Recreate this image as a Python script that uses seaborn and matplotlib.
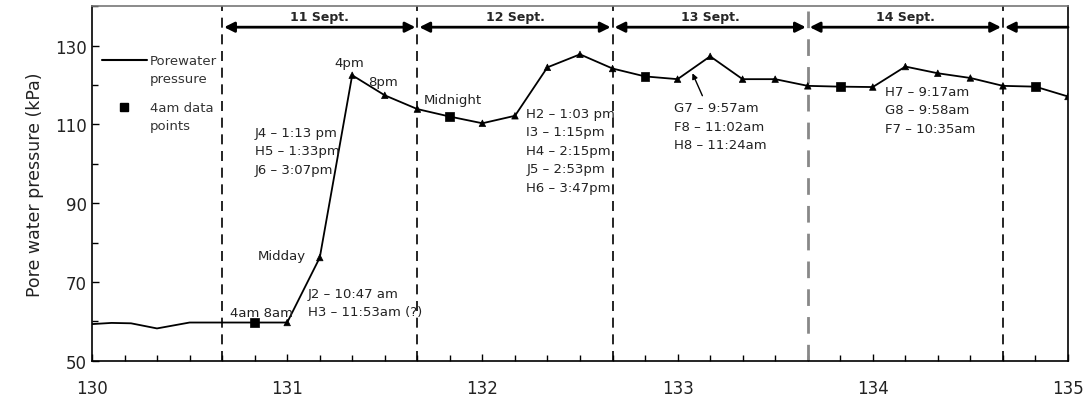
import matplotlib
matplotlib.use("Agg")
import matplotlib.pyplot as plt
import seaborn as sns
import pandas as pd

# ---- data ----
time_days = [130.0, 130.1, 130.2, 130.333, 130.5, 130.667,
             130.833, 131.0, 131.167, 131.333, 131.5, 131.667,
             131.833, 132.0, 132.167, 132.333, 132.5, 132.667,
             132.833, 133.0, 133.167, 133.333, 133.5, 133.667,
             133.833, 134.0, 134.167, 134.333, 134.5, 134.667,
             134.833, 135.0]
pressure = [59.3, 59.6, 59.5, 58.2, 59.7, 59.7,
            59.7, 59.7, 76.2, 122.5, 117.4, 113.9,
            112.0, 110.3, 112.2, 124.5, 127.8, 124.2,
            122.2, 121.5, 127.3, 121.5, 121.5, 119.8,
            119.6, 119.5, 124.7, 123.0, 121.8, 119.8,
            119.6, 117.1]
point_kind = ["none"] * 6 + ["4am", "other", "other", "other", "other", "other",
                             "4am", "other", "other", "other", "other", "other",
                             "4am", "other", "other", "other", "other", "other",
                             "4am", "other", "other", "other", "other", "other",
                             "4am", "other"]

day_bounds = [130.667, 131.667, 132.667, 133.667, 134.667]
day_labels = ["11 Sept.", "12 Sept.", "13 Sept.", "14 Sept."]

annotations = [
    ("4pm", 131.32, 125.8, "center"),
    ("8pm", 131.49, 121.0, "center"),
    ("Midnight", 131.70, 116.4, "left"),
    ("Midday", 130.97, 76.8, "center"),
    ("4am 8am", 130.87, 62.3, "center"),
    ("J2 \u2013 10:47 am\nH3 \u2013 11:53am (?)", 131.105, 64.8, "left"),
    ("J4 \u2013 1:13 pm\nH5 \u2013 1:33pm\nJ6 \u2013 3:07pm", 130.834, 103.3, "left"),
    ("H2 \u2013 1:03 pm\nI3 \u2013 1:15pm\nH4 \u2013 2:15pm\nJ5 \u2013 2:53pm\nH6 \u2013 3:47pm", 132.225, 103.5, "left"),
    ("G7 \u2013 9:57am\nF8 \u2013 11:02am\nH8 \u2013 11:24am", 132.98, 109.6, "left"),
    ("H7 \u2013 9:17am\nG8 \u2013 9:58am\nF7 \u2013 10:35am", 134.065, 113.7, "left"),
]

legend_labels = ["Porewater\npressure", "4am data\npoints"]

df = pd.DataFrame({"time": time_days, "pressure": pressure, "kind": point_kind})

# ---- figure ----
sns.set_theme(style="white")
plt.rcParams["font.family"] = ["DejaVu Sans"]
fig = plt.figure(figsize=(10.86, 4.02), dpi=100)
ax = fig.add_axes([0.0847, 0.1002, 0.8987, 0.8816])

sns.lineplot(data=df, x="time", y="pressure", color="black", linewidth=1.3,
             ax=ax, sort=False, legend=False)
mk = df[df["kind"] != "none"]
sns.scatterplot(data=mk, x="time", y="pressure", style="kind",
                markers={"4am": "s", "other": "^"},
                size="kind", sizes={"4am": 40, "other": 22},
                color="black", edgecolor="black", linewidth=0.5,
                ax=ax, legend=False, zorder=3)

ax.set_xlim(130, 135)
ax.set_ylim(50, 140)
ax.set_xticks([130, 131, 132, 133, 134, 135])
ax.set_xticks([130 + i / 6 for i in range(31)], minor=True)
ax.set_yticks([50, 70, 90, 110, 130])
ax.set_yticks(list(range(50, 141, 10)), minor=True)
ax.tick_params(axis="both", which="major", labelsize=12, length=5, width=1,
               direction="in", color="black", bottom=True, left=True,
               labelcolor="#222222")
ax.tick_params(axis="both", which="minor", length=4, width=1,
               direction="in", color="black", bottom=True, left=True)
ax.tick_params(axis="x", pad=13)
ax.set_xlabel("")
ax.set_ylabel("Pore water pressure (kPa)", fontsize=12.5, labelpad=8,
              color="#222222")

for side in ["left", "bottom", "right"]:
    ax.spines[side].set_color("black")
    ax.spines[side].set_linewidth(1.2)
ax.spines["top"].set_color("#777777")
ax.spines["top"].set_linewidth(1.2)

# day boundary lines
for b in day_bounds:
    grey = abs(b - 133.667) < 1e-3
    ax.axvline(b, color="#888888" if grey else "black", linestyle=(0, (6, 4)),
               linewidth=2.0 if grey else 1.2, zorder=1)

# day arrows
arrow_y = 134.7
for i, lab in enumerate(day_labels):
    x0, x1 = day_bounds[i], day_bounds[i + 1]
    ax.annotate("", xy=(x0 + 0.01, arrow_y), xytext=(x1 - 0.01, arrow_y),
                arrowprops=dict(arrowstyle="<|-|>", color="black", lw=2.0,
                                mutation_scale=15, shrinkA=0, shrinkB=0))
    ax.text((x0 + x1) / 2, 137.3, lab, ha="center", va="center",
            fontsize=9, fontweight="bold")
ax.annotate("", xy=(day_bounds[-1] + 0.01, arrow_y), xytext=(135, arrow_y),
            arrowprops=dict(arrowstyle="-|>", color="black", lw=2.0,
                            mutation_scale=15, shrinkA=0, shrinkB=0))

# annotations
for txt, x, y, ha in annotations:
    ax.text(x, y, txt, ha=ha, va="center", fontsize=9.5, color="#222222",
            linespacing=1.55)

ax.annotate("", xy=(133.076, 123.0), xytext=(133.127, 117.3),
            arrowprops=dict(arrowstyle="-|>", color="black", lw=1.0,
                            mutation_scale=8, shrinkA=0, shrinkB=0))

# legend (drawn manually so the handles align with the first label line)
ax.plot([0.0102, 0.0563], [0.8485, 0.8485], transform=ax.transAxes,
        color="black", lw=1.5, clip_on=False)
ax.plot([0.0328], [0.716], transform=ax.transAxes, marker="s", color="black",
        markersize=6, linestyle="none")
ax.text(0.0594, 0.8217, legend_labels[0], transform=ax.transAxes, ha="left",
        va="center", fontsize=9.5, color="#333333", linespacing=1.55)
ax.text(0.0594, 0.689, legend_labels[1], transform=ax.transAxes, ha="left",
        va="center", fontsize=9.5, color="#333333", linespacing=1.55)

fig.savefig("out.png", dpi=100)
